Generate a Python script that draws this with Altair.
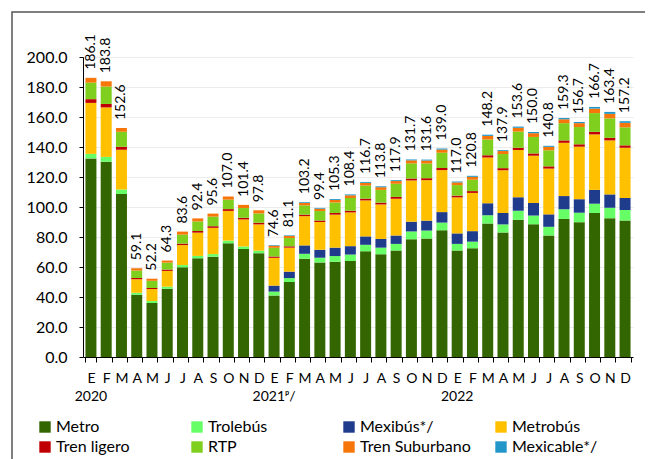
import altair as alt
import pandas as pd

meses = ["E", "F", "M", "A", "M", "J", "J", "A", "S", "O", "N", "D"] * 3
anio_idx = [0, 12, 24]
anio_txt = ["2020", "2021ᵖ/", "2022"]
ticks_y = [0, 20, 40, 60, 80, 100, 120, 140, 160, 180, 200]

totales = [186.1, 183.8, 152.6, 59.1, 52.2, 64.3, 83.6, 92.4, 95.6, 107.0, 101.4, 97.8,
           74.6, 81.1, 103.2, 99.4, 105.3, 108.4, 116.7, 113.8, 117.9, 131.7, 131.6, 139.0,
           117.0, 120.8, 148.2, 137.9, 153.6, 150.0, 140.8, 159.3, 156.7, 166.7, 163.4, 157.2]

metro = [132.4, 130.2, 108.7, 41.5, 36.0, 45.5, 59.8, 65.8, 66.9, 75.8, 72.0, 69.2,
         41.0, 50.0, 65.5, 63.0, 63.5, 64.0, 70.5, 68.5, 71.0, 78.5, 79.0, 84.5,
         71.0, 72.5, 89.0, 83.0, 91.5, 88.5, 81.0, 92.0, 89.9, 96.0, 92.5, 91.0]
trolebus = [3.0, 3.2, 3.0, 1.3, 1.3, 1.4, 1.5, 1.6, 1.7, 1.8, 1.7, 1.7,
            2.6, 2.6, 3.3, 3.2, 3.8, 4.3, 4.3, 4.4, 4.4, 5.2, 5.3, 5.1,
            4.4, 4.4, 5.5, 5.4, 6.0, 5.8, 5.8, 6.5, 6.3, 6.2, 7.0, 7.0]
mexibus = [None] * 12 + [4.0, 4.3, 5.6, 5.3, 5.6, 5.6, 5.6, 5.8, 5.6, 6.5, 6.6, 7.0,
                         7.0, 7.0, 8.0, 7.6, 9.0, 8.4, 8.3, 8.8, 9.0, 9.2, 8.9, 8.0]
metrobus = [34.0, 33.0, 26.5, 9.0, 8.0, 10.5, 13.3, 15.5, 17.5, 19.8, 18.0, 17.5,
            18.5, 16.0, 19.5, 18.5, 22.0, 22.5, 24.0, 23.0, 24.5, 27.5, 27.0, 28.0,
            24.0, 25.5, 30.5, 28.5, 31.5, 31.5, 30.5, 35.5, 35.0, 37.0, 36.0, 33.5]
tren_ligero = [2.5, 2.3, 2.0, 0.8, 0.7, 0.9, 1.0, 1.1, 1.1, 1.2, 1.1, 1.1,
               0.9, 0.9, 1.0, 1.0, 1.1, 1.1, 1.2, 1.2, 1.2, 1.3, 1.3, 1.4,
               1.2, 1.2, 1.5, 1.4, 1.5, 1.5, 1.5, 1.6, 1.6, 1.7, 1.7, 1.6]
rtp = [11.0, 11.6, 10.0, 5.0, 4.8, 4.6, 6.0, 6.4, 6.4, 6.3, 6.5, 6.2,
       5.8, 5.5, 6.2, 6.3, 7.0, 8.5, 8.7, 8.5, 8.8, 10.1, 9.8, 10.2,
       7.0, 7.6, 10.5, 9.4, 10.8, 11.0, 10.7, 11.5, 11.5, 12.5, 13.0, 12.0]
suburbano = [3.2, 3.5, 2.4, 1.5, 1.4, 1.4, 2.0, 2.0, 2.0, 2.1, 2.1, 2.1,
             1.4, 1.4, 1.6, 1.6, 1.7, 1.8, 1.8, 1.8, 1.8, 2.0, 2.0, 2.1,
             1.8, 1.9, 2.4, 2.0, 2.5, 2.5, 2.3, 2.6, 2.6, 3.0, 3.0, 3.0]
mexicable = [None] * 12 + [0.4, 0.4, 0.5, 0.5, 0.6, 0.6, 0.6, 0.6, 0.6, 0.6, 0.6, 0.7,
                           0.6, 0.7, 0.8, 0.6, 0.8, 0.8, 0.7, 0.8, 0.8, 1.1, 1.3, 1.1]

nombres = ["Metro", "Trolebús", "Mexibús*/", "Metrobús",
           "Tren ligero", "RTP", "Tren Suburbano", "Mexicable*/"]
colores = ["#336600", "#66ff66", "#1f3b8c", "#ffc000",
           "#c00000", "#7fcf1f", "#f7760a", "#2196c8"]
series = [metro, trolebus, mexibus, metrobus, tren_ligero, rtp, suburbano, mexicable]

rows = []
for i in range(36):
    for orden, (nombre, serie) in enumerate(zip(nombres, series)):
        v = serie[i]
        if v is None:
            continue
        rows.append({"idx": i, "modo": nombre, "orden": orden, "valor": v})
df = pd.DataFrame(rows)
df_tot = pd.DataFrame({"idx": list(range(36)), "total": totales,
                       "etiqueta": [f"{t:.1f}" for t in totales]})
df_anio = pd.DataFrame({"idx": anio_idx, "anio": anio_txt})
df_marco = pd.DataFrame({"k": [0]})

FONT = "Lato"
label_expr = "[" + ",".join(f"'{m}'" for m in meses) + "][datum.value]"

xscale = alt.Scale(domain=list(range(36)), paddingInner=0.28, paddingOuter=0.16)
yscale = alt.Scale(domain=[0, 200], nice=False)

xaxis = alt.Axis(title=None, labelExpr=label_expr, labelAngle=0,
                 tickBand="extent", tickSize=5, tickColor="black",
                 domainColor="black", labelFontSize=14, labelPadding=9,
                 labelColor="black", labelFont=FONT, labelOverlap=False)
yaxis = alt.Axis(title=None, values=ticks_y, format=".1f",
                 grid=True, gridColor="#ececec", tickSize=4,
                 tickColor="black", domainColor="black", labelFontSize=16,
                 labelColor="black", labelFont=FONT, labelPadding=12,
                 labelOverlap=False, labelBound=False)

bars = alt.Chart(df).mark_bar().encode(
    x=alt.X("idx:O", scale=xscale, axis=xaxis),
    y=alt.Y("valor:Q", stack="zero", scale=yscale, axis=yaxis),
    color=alt.Color("modo:N", sort=nombres,
                    scale=alt.Scale(domain=nombres, range=colores),
                    legend=alt.Legend(title=None, orient="none", legendX=-46, legendY=362,
                                      columns=4, direction="horizontal", symbolType="square",
                                      symbolSize=130, symbolStrokeWidth=0, labelFontSize=16,
                                      labelFont=FONT, labelColor="black", columnPadding=22,
                                      rowPadding=4, gridAlign="all", padding=0,
                                      labelOffset=3)),
    order=alt.Order("orden:Q", sort="ascending"),
)

labels = alt.Chart(df_tot).mark_text(angle=270, align="left", baseline="middle",
                                     dx=8, fontSize=14, font=FONT, color="black").encode(
    x=alt.X("idx:O", scale=xscale, axis=xaxis),
    y=alt.Y("total:Q", scale=yscale, axis=yaxis),
    text="etiqueta:N",
)

years = alt.Chart(df_anio).mark_text(fontSize=14, font=FONT, color="black",
                                     baseline="middle").encode(
    x=alt.X("idx:O", scale=xscale, axis=xaxis),
    y=alt.value(340),
    text="anio:N",
)

marco = alt.Chart(df_marco).mark_rect(fill=None, stroke="#555555", strokeWidth=1.5).encode(
    x=alt.value(-71), x2=alt.value(640), y=alt.value(-45), y2=alt.value(520)
)

chart = alt.layer(marco, bars, labels, years).properties(
    width=550, height=300,
    padding={"left": 75, "top": 49, "right": 12, "bottom": 104},
    autosize=alt.AutoSizeParams(type="none"),
).configure_view(stroke=None)

chart.save("out.html", embed_options={"renderer": "svg", "actions": False})
